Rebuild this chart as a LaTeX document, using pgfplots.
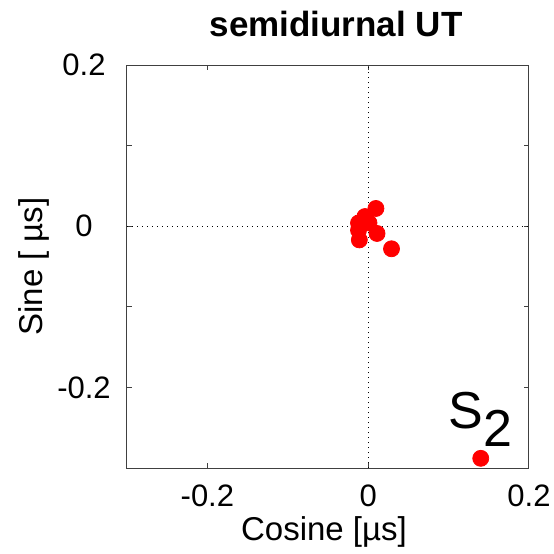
\documentclass[border=0pt]{standalone}
\usepackage{fontspec}
\setmainfont{Liberation Sans}
\usepackage{pgfplots}
\pgfplotsset{compat=1.18}
\definecolor{framegray}{RGB}{64,64,64}
\begin{document}
\begin{tikzpicture}
\begin{axis}[
  scale only axis, width=201pt, height=201.5pt,
  xmin=-0.3, xmax=0.2, ymin=-0.3, ymax=0.2,
  axis line style={framegray, line width=0.5pt},
  every tick/.style={framegray, line width=0.5pt},
  major tick length=2.5pt, minor tick length=2.5pt,
  tick align=inside,
  xtick={-0.2,0,0.2}, ytick={-0.2,0,0.2},
  minor ytick={-0.3,-0.1,0.1},
  /pgf/number format/assume math mode=true,
  /pgf/number format/fixed,
  xticklabel style={font=\fontsize{15.5}{15.5}\selectfont, anchor=base, inner sep=0pt, yshift=-19pt},
  yticklabel style={font=\fontsize{15.5}{15.5}\selectfont, anchor=center, inner sep=0pt, xshift=-21.5pt},
  xlabel={Cosine [µs]}, ylabel={Sine [ µs]},
  xlabel style={font=\fontsize{16.5}{16.5}\selectfont, at={(axis description cs:0.49,-0.1787)}, anchor=base, inner sep=0pt},
  ylabel style={font=\fontsize{16.5}{16.5}\selectfont, at={(axis description cs:-0.209,0.5)}, anchor=base, rotate=0, inner sep=0pt},
  every axis title shift=0pt,
  title={semidiurnal UT},
  title style={font=\bfseries\fontsize{17.5}{17.5}\selectfont, at={(axis description cs:0.52,1.0695)}, anchor=base, inner sep=0pt},
  clip=false,
]
\draw[black, dotted, line width=0.5pt] (axis cs:0,-0.3) -- (axis cs:0,0.2);
\draw[black, dotted, line width=0.5pt] (axis cs:-0.3,0) -- (axis cs:0.2,0);
\addplot[only marks, mark=*, mark size=4pt, color=red, mark options={draw=red, fill=red}] coordinates {
  (0.140,-0.288)
  (0.0096,0.022)
  (-0.004,0.012)
  (-0.012,0.004)
  (0.001,0.004)
  (-0.012,-0.005)
  (-0.011,-0.017)
  (0.011,-0.009)
  (0.029,-0.028)
};
\node[anchor=base west, inner sep=0pt, font=\fontsize{26}{26}\selectfont] at (axis cs:0.0995,-0.2506) {S\raisebox{-9pt}{2}};
\end{axis}
\pgfresetboundingbox
\path ([shift={(-63.5pt,-43pt)}]current axis.south west) rectangle ([shift={(12.5pt,32.5pt)}]current axis.north east);
\end{tikzpicture}
\end{document}
